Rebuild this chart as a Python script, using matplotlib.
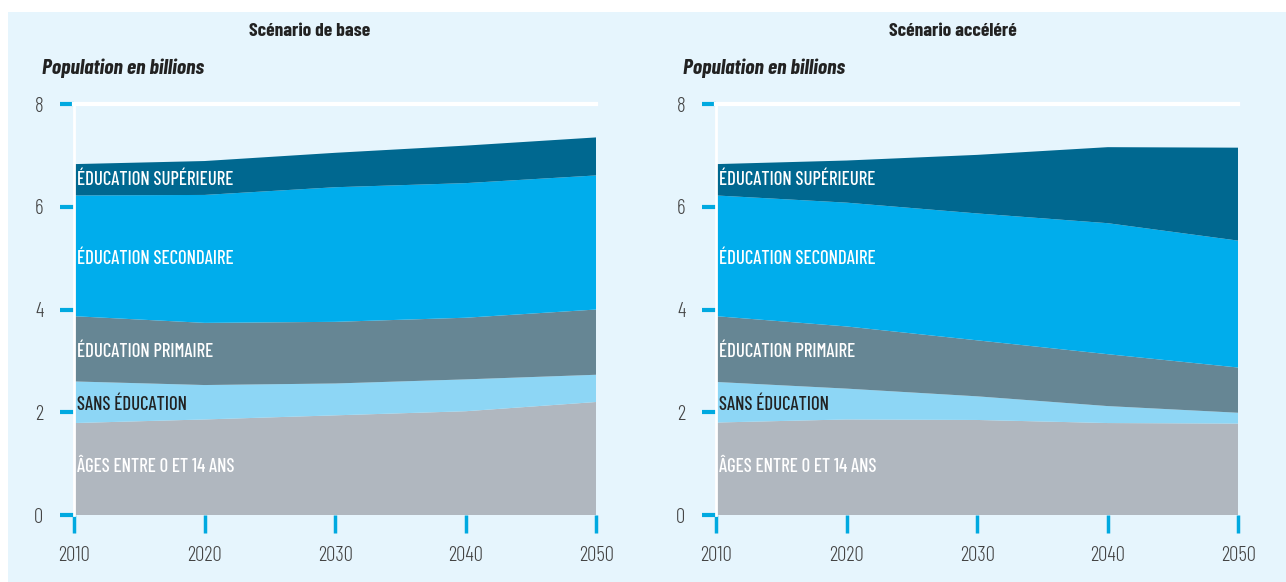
import matplotlib
matplotlib.use('Agg')
from matplotlib import pyplot as plt
from matplotlib.patches import Rectangle

years = [2010, 2020, 2030, 2040, 2050]

layer_names = ['ÂGES ENTRE 0 ET 14 ANS', 'SANS ÉDUCATION', 'ÉDUCATION PRIMAIRE',
               'ÉDUCATION SECONDAIRE', 'ÉDUCATION SUPÉRIEURE']

# scénario de base (milliards, épaisseur de chaque couche)
base_ages = [1.79, 1.86, 1.94, 2.02, 2.20]
base_sans = [0.81, 0.67, 0.62, 0.62, 0.53]
base_prim = [1.27, 1.21, 1.20, 1.20, 1.27]
base_sec = [2.35, 2.49, 2.62, 2.62, 2.61]
base_sup = [0.61, 0.66, 0.67, 0.73, 0.74]

# scénario accéléré
acc_ages = [1.80, 1.86, 1.85, 1.79, 1.78]
acc_sans = [0.79, 0.60, 0.46, 0.33, 0.21]
acc_prim = [1.28, 1.21, 1.09, 1.01, 0.88]
acc_sec = [2.35, 2.41, 2.47, 2.55, 2.47]
acc_sup = [0.61, 0.82, 1.14, 1.48, 1.81]

colors = ['#b0b7bf', '#8dd6f5', '#668694', '#00adec', '#006890']
label_colors = ['white', '#222222', 'white', 'white', 'white']
label_y = [0.94, 2.14, 3.17, 4.99, 6.52]

bg = '#e6f5fd'
tick_blue = '#00a9e0'
cond = ['Barlow Condensed', 'DejaVu Sans']

fig = plt.figure(figsize=(12.86, 5.82), dpi=100, facecolor='white')
fig.patches.append(Rectangle((8 / 1286, 0), 1, 1 - 12 / 582, transform=fig.transFigure,
                             facecolor=bg, edgecolor='none', zorder=-10))


def draw_panel(left, title, title_x, sub_x, layers):
    ax = fig.add_axes([left, 0.1151, 0.4062, 0.7062])
    ax.set_facecolor(bg)
    ax.stackplot(years, *layers, colors=colors, linewidth=0)
    ax.set_xlim(2010, 2050)
    ax.set_ylim(0, 8)
    ax.set_xticks(years)
    ax.set_yticks([0, 2, 4, 6, 8])
    ax.tick_params(axis='y', direction='out', length=10, width=3, color=tick_blue,
                   pad=12, labelsize=15, labelcolor='#444444')
    ax.tick_params(axis='x', direction='out', length=13, width=2.5, color=tick_blue,
                   pad=9, labelsize=15, labelcolor='#444444')
    for lab in ax.get_xticklabels() + ax.get_yticklabels():
        lab.set_family(cond)
        lab.set_fontweight(300)
    for s in ['right', 'bottom']:
        ax.spines[s].set_visible(False)
    ax.spines['left'].set_color('white')
    ax.spines['left'].set_linewidth(2)
    ax.spines['top'].set_color('white')
    ax.spines['top'].set_linewidth(3)
    for name, y, c in zip(layer_names, label_y, label_colors):
        ax.text(2010.25, y, name, color=c, fontsize=13.5, fontweight=500, family=cond,
                va='center', ha='left')
    fig.text(title_x / 1286, 1 - 32 / 582, title, ha='center', va='center',
             fontsize=14, fontweight='bold', family=cond, color='#222222')
    fig.text(sub_x / 1286, 1 - 68 / 582, 'Population en billions', ha='left', va='center',
             fontsize=15.5, fontweight='bold', style='italic', family=cond, color='#222222')
    return ax


draw_panel(0.0575, 'Scénario de base', 310, 42,
           [base_ages, base_sans, base_prim, base_sec, base_sup])
draw_panel(0.5568, 'Scénario accéléré', 953, 683,
           [acc_ages, acc_sans, acc_prim, acc_sec, acc_sup])

fig.savefig('out.png', dpi=100, facecolor=fig.get_facecolor())
